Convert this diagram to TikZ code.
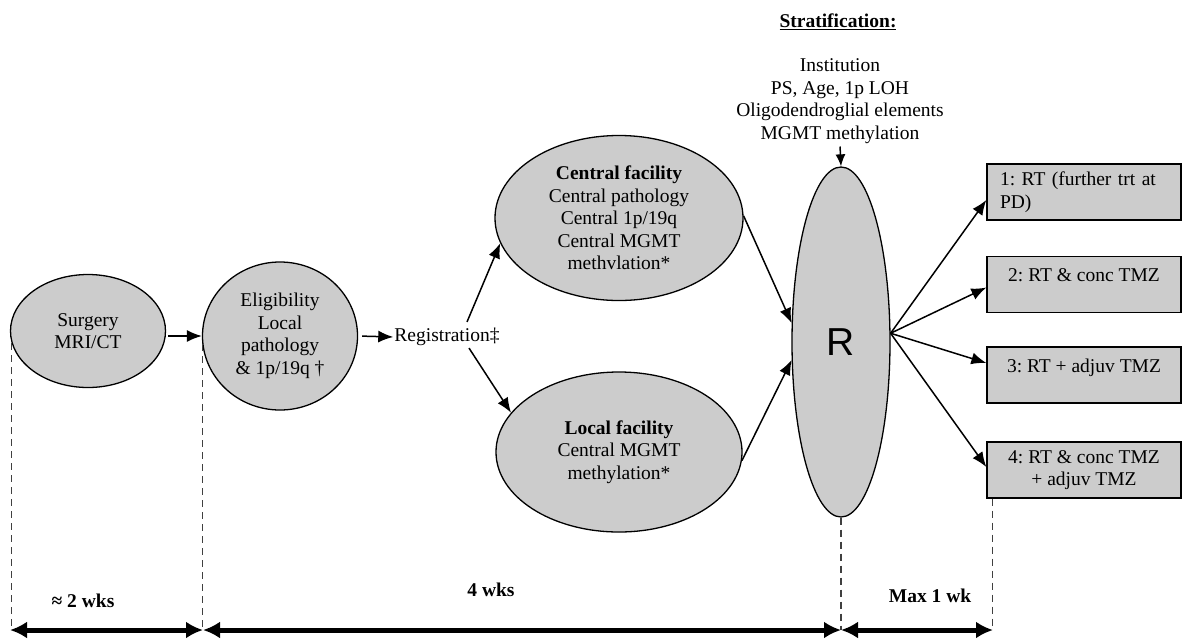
\documentclass[tikz,border=0pt]{standalone}
\usepackage{fontspec}
\setmainfont{Liberation Serif}
\newfontfamily\rfont{Liberation Sans}
\usetikzlibrary{shapes.geometric,arrows.meta}
\definecolor{fillgray}{RGB}{204,204,204}
\tikzset{
  oval/.style={ellipse,draw=black,line width=1.3pt,fill=fillgray,inner sep=-4pt,align=center},
  arm/.style={rectangle,draw=black,line width=1.3pt,fill=fillgray,minimum width=194pt,minimum height=56pt,inner sep=0pt,align=center},
  conn/.style={line width=1.5pt,-{Latex[length=15pt,width=12pt]}},
  guide/.style={line width=1.3pt,dash pattern=on 7pt off 5pt,black!75},
  span/.style={line width=5pt,{Latex[length=17pt,width=17pt]}-{Latex[length=17pt,width=17pt]}},
  txt/.style={inner sep=0pt,align=center}
}
\frenchspacing
\begin{document}
\begin{tikzpicture}[x=1pt,y=-1pt,every node/.style={font=\fontsize{19.5}{22.5}\selectfont}]
\useasboundingbox (0,0) rectangle (1183,638);

% main nodes
\node[oval,minimum width=155pt,minimum height=113pt] (surg) at (88,331) {Surgery\\MRI/CT};
\node[oval,minimum width=155pt,minimum height=148pt] (elig) at (280,336) {Eligibility\\Local\\pathology\\\& 1p/19q †};
\node[txt] (reg) at (447,337) {Registration‡};
\node[oval,minimum width=248pt,minimum height=165pt] (cent) at (619,218) {\textbf{Central facility}\\Central pathology\\Central 1p/19q\\Central MGMT\\methvlation*};
\node[oval,minimum width=246pt,minimum height=160pt] (loc) at (619,452) {\textbf{Local facility}\\Central MGMT\\methylation*};
\node[oval,inner sep=0pt,minimum width=98pt,minimum height=350pt] (R) at (841,342) {\rfont\fontsize{39}{40}\selectfont R};

% stratification
\node[txt] (strath) at (838,22) {\underline{\textbf{Stratification:}}};
\node[txt,inner sep=2pt] (strat) at (840,101) {Institution\\PS, Age, 1p LOH\\Oligodendroglial elements\\MGMT methylation};

% arms
\node[arm,align=left,text width=168pt] (b1) at (1084,192) {1: RT (further trt at\\PD)};
\node[arm,text height=14pt,text depth=20pt] (b2) at (1084,284.5) {2: RT \& conc TMZ};
\node[arm,text height=14pt,text depth=20pt] (b3) at (1084,375) {3: RT + adjuv TMZ};
\node[arm] (b4) at (1084,470) {4: RT \& conc TMZ\\+ adjuv TMZ};

% connectors
\draw[conn,shorten <=2pt] (surg.east |- elig.west) -- (elig.west);
\draw[conn,shorten <=4pt,shorten >=1pt] (elig.east) -- (reg.west);
\draw[conn] ([xshift=20pt,yshift=6pt]reg.north) -- (cent.192);
\draw[conn] ([xshift=22pt,yshift=-2pt]reg.south) -- (loc.160);
\draw[conn] (cent.1) -- (R.159);
\draw[conn] (loc.-4) -- (R.200);
\draw[line width=1.5pt,-{Latex[length=12pt,width=10pt]},shorten <=1pt] (strat.south) -- (R.north);
\draw[conn] (R.10) -- ([yshift=-8pt]b1.west);
\draw[conn] (R.10) -- ([yshift=-3pt]b2.west);
\draw[conn] (R.10) -- ([yshift=12pt]b3.west);
\draw[conn] (R.10) -- ([yshift=3pt]b4.west);

% timeline
\coordinate (t1) at (10,630);
\coordinate (t2) at (203,630);
\coordinate (t3) at (841,630);
\coordinate (t4) at (993,630);
\draw[guide] (surg.189) -- (surg.189 |- t1);
\draw[guide] (elig.186) -- (elig.186 |- t2);
\draw[guide] (R.south) -- (R.south |- t3);
\draw[guide] ([xshift=6pt]b4.south west) -- ([xshift=6pt]b4.south west |- t4);
\draw[span] (t1) -- (t2);
\draw[span] (t2) -- (t3);
\draw[span] (t3) -- (t4);
\node[txt] (l1) at (83,601) {\textbf{≈ 2 wks}};
\node[txt] (l2) at (491,590) {\textbf{4 wks}};
\node[txt] (l3) at (930,596) {\textbf{Max 1 wk}};
\end{tikzpicture}
\end{document}
